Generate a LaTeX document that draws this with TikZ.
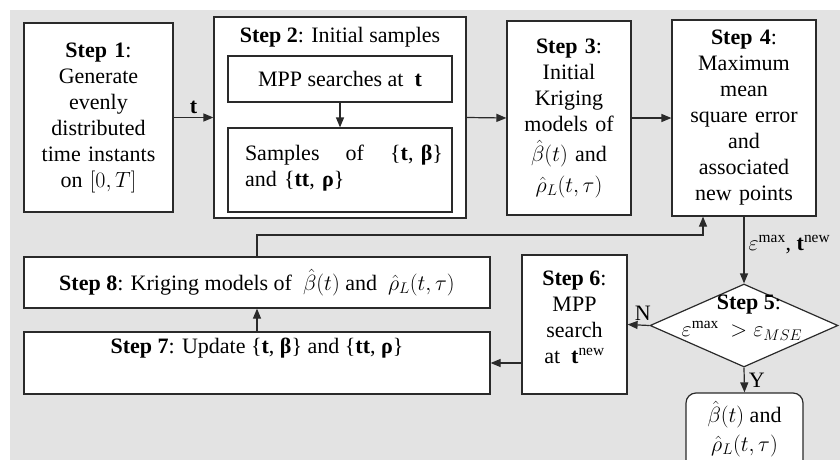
\RequirePackage{fix-cm}
\documentclass[tikz,border=0pt]{standalone}
\usepackage{fontspec}
\setmainfont{Liberation Serif}
\usetikzlibrary{arrows.meta,shapes.geometric,calc}
\definecolor{bggray}{HTML}{E3E3E3}
\definecolor{ln}{HTML}{2A2A2A}
\tikzset{
  box/.style={draw=ln, line width=1.2pt, fill=white, inner sep=0pt, align=center},
  txt/.style={inner sep=0pt, align=center},
  arr/.style={draw=ln, line width=1.2pt, -{Triangle[length=10pt,width=8pt]}},
  ln/.style={draw=ln, line width=1.2pt},
}
\begin{document}
\begin{tikzpicture}[x=1pt,y=-1pt,font=\fontsize{22}{26}\selectfont]
\useasboundingbox (0,0) rectangle (840,460);
\clip (0,0) rectangle (840,460);
\fill[bggray] (10,10) rectangle (840,460);
% Step 1
\node[box, minimum width=149, minimum height=189, text width=145] (s1) at (98.5,117.5)
  {\textbf{Step 1}:\\Generate\\evenly\\distributed\\time instants\\on $[0,T]$};
% Step 2
\node[box, minimum width=252, minimum height=201] (s2) at (340,117.5) {};
\node[txt] (s2t) at (340,37) {\textbf{Step 2}: Initial samples};
\node[box, minimum width=224, minimum height=46] (mpp) at (340,79) {MPP searches at \ \textbf{t}};
\node[box, minimum width=224, minimum height=84] (smp) at (340,170) {};
\node[txt, text width=198, align=left] (smpt) at (344,168)
  {Samples\hfill of\hfill \{\textbf{t}, \textbf{β}\}\\and \{\textbf{tt}, \textbf{ρ}\}};
% Step 3
\node[box, minimum width=124, minimum height=194, text width=120] (s3) at (569,118)
  {\textbf{Step 3}:\\Initial\\Kriging\\models of\\[4pt]$\hat{\beta}(t)$ and\\[5pt]$\hat{\rho}_L(t,\tau)$};
% Step 4
\node[box, minimum width=144, minimum height=196, text width=140] (s4) at (744,118)
  {\textbf{Step 4}:\\Maximum\\mean\\square error\\and\\associated\\new points};
% Step 8
\node[box, minimum width=466, minimum height=51] (s8) at (257,282.5)
  {\textbf{Step 8}: Kriging models of \ $\hat{\beta}(t)$ and \ $\hat{\rho}_L(t,\tau)$};
% Step 7
\node[box, minimum width=466, minimum height=62] (s7) at (257,363) {};
\node[txt] (s7t) at (257,348) {\textbf{Step 7}: Update \{\textbf{t}, \textbf{β}\} and \{\textbf{tt}, \textbf{ρ}\}};
% Step 6
\node[box, minimum width=105, minimum height=139] (s6) at (574.5,324.5) {};
\node[txt] (s6t) at (574.5,317) {\textbf{Step 6}:\\MPP\\search\\at \ \textbf{t}$^{\mathrm{new}}$};
% Step 5 diamond
\node[draw=ln, line width=1.2pt, fill=white, diamond, inner sep=0pt, minimum width=188, minimum height=83] (s5) at (744,325.5) {};
\node[txt] (s5a) at (749,305) {\textbf{Step 5}:};
\node[txt] (s5b) at (742,331) {$\varepsilon^{\max}\ > \varepsilon_{MSE}$};
% Final
\node[box, rounded corners=10pt, minimum width=117, minimum height=82] (fin) at (744.5,434) {};
\node[txt] (fint) at (744.5,429) {$\hat{\beta}(t)$ and\\[3pt]$\hat{\rho}_L(t,\tau)$};
% connectors
\draw[arr] (s1.east) -- node[above=3pt, txt] (lt) {\textbf{t}} (s2.west);
\draw[arr] (mpp.south) -- (smp.north);
\draw[arr] (s2.east) -- (s3.west);
\draw[arr] (s3.east) -- (s4.west);
\draw[arr] (s4.south) -- node[right=4pt, pos=0.42, txt] (le) {$\varepsilon^{\max}$, \textbf{t}$^{\mathrm{new}}$} (s5.north);
\coordinate (fb) at (703,235);
\draw[arr] (s8.north) |- (fb) -- (fb |- s4.south);
\draw[arr] (s7.north) -- (s8.south);
\draw[arr] (s6.west |- s7.east) -- (s7.east);
\draw[arr] (s5.west) -- node[above=4pt, pos=0.3, txt] (lN) {N} (s6.east);
\draw[arr] (s5.south) -- node[right=4pt, txt] (lY) {Y} (fin.north);
\end{tikzpicture}
\end{document}
